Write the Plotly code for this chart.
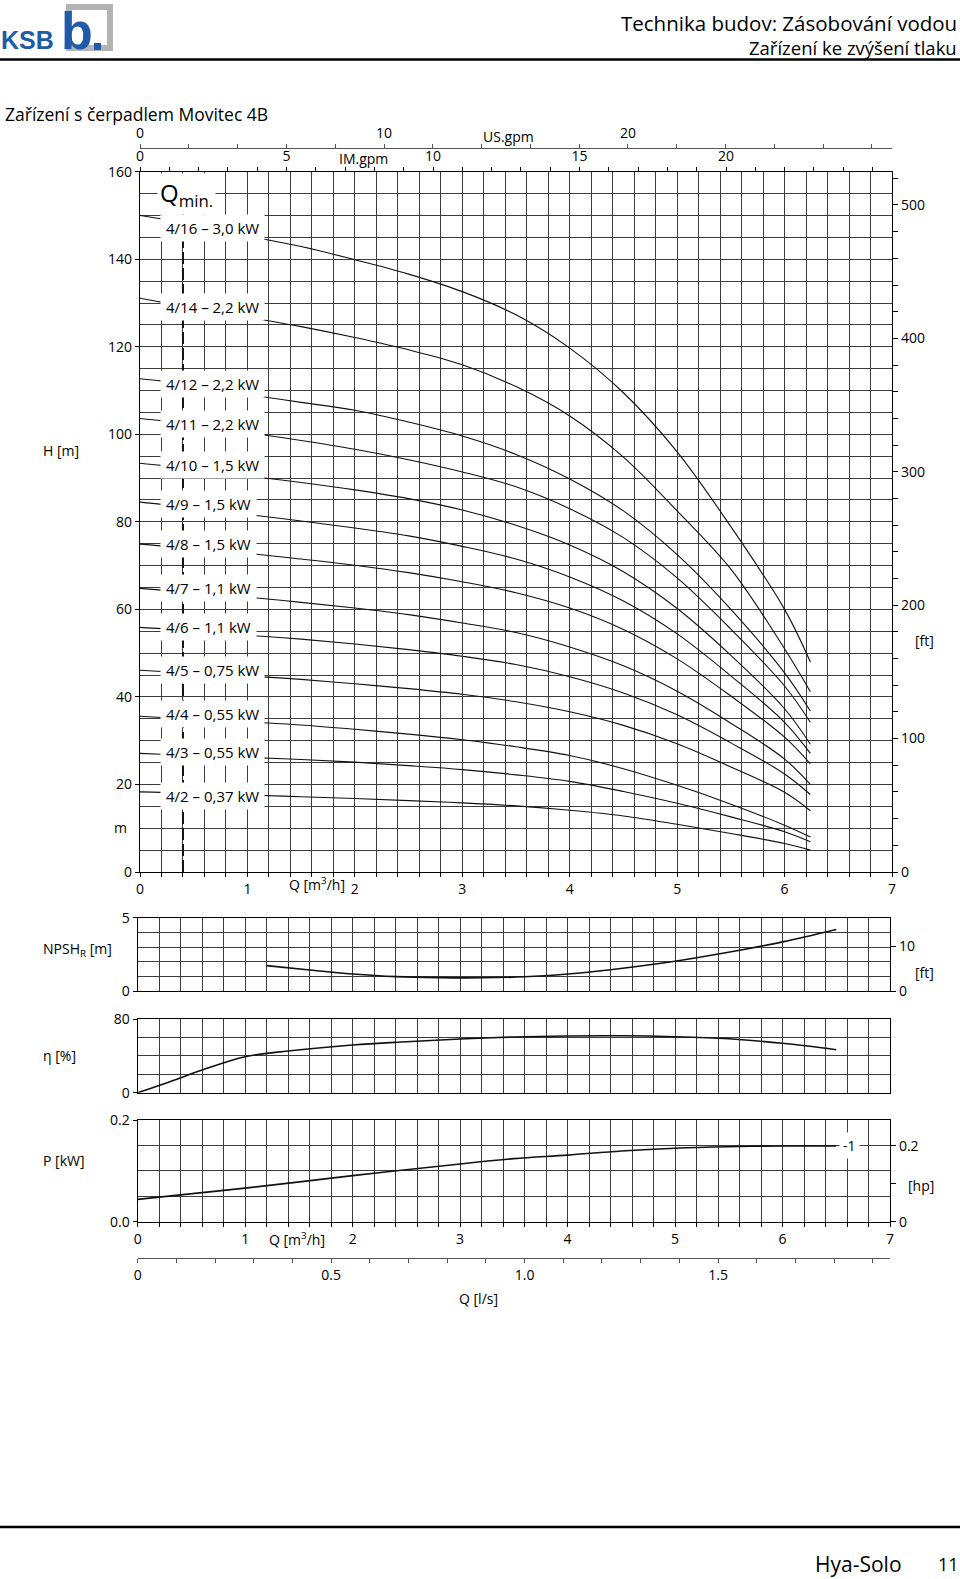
import plotly.graph_objects as go

# === Дані: Q-H криві (Q у m3/h, H у m) ===
q_main = [0, 0.2, 0.4, 1.0, 1.5, 2.0, 2.5, 3.0, 3.5, 4.0, 4.5, 5.0, 5.5, 6.0, 6.24]

h_4_16 = [150.0, 149.2, 148.3, 145.3, 142.9, 139.9, 136.6, 132.6, 127.3, 119.7, 109.5, 96.0, 78.9, 60.0, 48.0]
h_4_14 = [131.1, 130.2, 129.5, 126.8, 124.6, 122.1, 119.3, 115.9, 110.9, 104.2, 94.8, 82.5, 69.2, 51.0, 41.2]
h_4_12 = [112.7, 112.2, 111.5, 109.1, 107.3, 105.5, 102.8, 99.6, 95.4, 89.8, 82.5, 72.5, 60.0, 45.5, 36.8]
h_4_11 = [103.6, 103.1, 102.5, 100.4, 98.6, 96.6, 94.2, 91.4, 88.0, 83.0, 76.4, 67.2, 55.5, 42.5, 34.2]
h_4_10 = [93.4, 92.9, 92.3, 90.5, 89.0, 87.3, 85.3, 82.7, 79.2, 74.7, 68.6, 60.2, 49.5, 37.3, 29.2]
h_4_9 = [84.5, 84.0, 83.4, 81.7, 80.2, 78.6, 76.8, 74.4, 71.5, 67.4, 61.9, 54.4, 44.8, 34.2, 27.1]
h_4_8 = [74.9, 74.5, 74.0, 72.8, 71.5, 70.1, 68.4, 66.3, 63.8, 60.3, 55.4, 48.7, 40.2, 30.8, 24.7]
h_4_7 = [64.8, 64.4, 64.0, 62.8, 61.6, 60.3, 58.8, 56.9, 54.7, 51.4, 47.1, 41.3, 34.0, 25.8, 20.0]
h_4_6 = [55.9, 55.6, 55.2, 54.1, 53.2, 52.1, 50.8, 49.3, 47.4, 44.6, 40.9, 35.9, 29.5, 22.4, 17.7]
h_4_5 = [46.1, 45.8, 45.5, 44.8, 44.0, 43.0, 41.9, 40.6, 38.9, 36.6, 33.5, 29.3, 24.0, 18.2, 14.0]
h_4_4 = [35.6, 35.3, 35.0, 34.3, 33.6, 32.6, 31.5, 30.2, 28.6, 26.6, 23.6, 19.8, 15.5, 10.7, 8.0]
h_4_3 = [27.1, 26.9, 26.7, 26.2, 25.7, 25.1, 24.3, 23.4, 22.2, 20.7, 18.4, 15.7, 12.6, 9.2, 6.9]
h_4_2 = [18.3, 18.2, 18.0, 17.6, 17.2, 16.8, 16.3, 15.8, 15.1, 14.1, 12.8, 10.9, 8.8, 6.5, 5.0]

curve_labels = ["4/16 – 3,0 kW", "4/14 – 2,2 kW", "4/12 – 2,2 kW", "4/11 – 2,2 kW",
                "4/10 – 1,5 kW", "4/9 – 1,5 kW", "4/8 – 1,5 kW", "4/7 – 1,1 kW",
                "4/6 – 1,1 kW", "4/5 – 0,75 kW", "4/4 – 0,55 kW", "4/3 – 0,55 kW",
                "4/2 – 0,37 kW"]
curves = [h_4_16, h_4_14, h_4_12, h_4_11, h_4_10, h_4_9, h_4_8,
          h_4_7, h_4_6, h_4_5, h_4_4, h_4_3, h_4_2]

q_min = 0.4
q_min_h = [0, 151]

# NPSH, účinnost, příkon
q_npsh = [1.2, 1.6, 2.0, 2.4, 2.8, 3.2, 3.6, 4.0, 4.4, 4.8, 5.2, 5.6, 6.0, 6.5]
npsh = [1.73, 1.43, 1.16, 0.98, 0.91, 0.90, 0.97, 1.16, 1.45, 1.82, 2.27, 2.78, 3.35, 4.2]

q_eta = [0, 0.3, 0.6, 1.0, 1.4, 2.0, 2.5, 3.0, 3.5, 4.0, 4.5, 5.0, 5.5, 6.0, 6.5]
eta = [0, 12, 24.6, 39, 45.3, 51.8, 55.3, 58.3, 60.5, 61.6, 61.8, 60.8, 58.5, 53.6, 46.7]

q_p = [0, 1, 2, 3, 3.5, 4, 4.5, 5, 5.5, 6, 6.5]
p_kw = [0.044, 0.066, 0.0906, 0.1136, 0.124, 0.131, 0.139, 0.1445, 0.1475, 0.149, 0.149]

# === Розмітка в пікселях ===
W, HP = 960, 1579


def px(x):
    return x / W


def py(y):
    return 1 - y / HP


FONT = "Open Sans"
GRID = "#3c3c3c"
INK = "#111111"

fig = go.Figure()

for h in curves:
    fig.add_trace(go.Scatter(x=q_main, y=h, mode="lines", xaxis="x", yaxis="y",
                             line=dict(color=INK, width=1.1, shape="spline", smoothing=1.0),
                             hoverinfo="skip", showlegend=False))

fig.add_trace(go.Scatter(x=[q_min, q_min], y=q_min_h, mode="lines", xaxis="x", yaxis="y",
                         line=dict(color=INK, width=2, dash="12px,4px"),
                         hoverinfo="skip", showlegend=False))

fig.add_trace(go.Scatter(x=q_npsh, y=npsh, mode="lines", xaxis="x4", yaxis="y3",
                         line=dict(color=INK, width=1.6, shape="spline"), hoverinfo="skip",
                         showlegend=False))
fig.add_trace(go.Scatter(x=q_eta, y=eta, mode="lines", xaxis="x5", yaxis="y5",
                         line=dict(color=INK, width=1.6, shape="spline"), hoverinfo="skip",
                         showlegend=False))
fig.add_trace(go.Scatter(x=q_p, y=p_kw, mode="lines", xaxis="x6", yaxis="y6",
                         line=dict(color=INK, width=1.6, shape="spline"), hoverinfo="skip",
                         showlegend=False))

# neviditelné stopy, aby se vykreslily i přidané osy (gpm, ft, hp, l/s)
for xa, ya in [("x2", "y"), ("x3", "y"), ("x", "y2"), ("x4", "y4"), ("x6", "y7"), ("x7", "y6")]:
    fig.add_trace(go.Scatter(x=[0], y=[0], mode="markers", xaxis=xa, yaxis=ya,
                             marker=dict(opacity=0, size=1), hoverinfo="skip", showlegend=False))

tickfont = dict(family=FONT, size=14, color="black")
minor_grid = dict(showgrid=True, gridcolor=GRID, gridwidth=1)

main_dom_x = [px(140), px(892)]
low_dom_x = [px(137.7), px(890)]

fig.update_layout(
    width=W, height=HP, margin=dict(l=0, r=0, t=0, b=0, autoexpand=False),
    paper_bgcolor="white", plot_bgcolor="white", showlegend=False,
    font=dict(family=FONT, size=14, color="black"),
    # hlavní graf
    xaxis=dict(domain=main_dom_x, range=[0, 7], anchor="y", tickvals=list(range(8)),
               ticks="outside", ticklen=4, tickcolor="black", tickfont=tickfont,
               showline=True, linecolor="black", linewidth=1.2, zeroline=False,
               showgrid=True, gridcolor=GRID, gridwidth=1,
               minor=dict(dtick=0.2, ticks="outside", ticklen=4, tickcolor="black", **minor_grid)),
    yaxis=dict(domain=[py(872), py(171.7)], range=[0, 160], anchor="x",
               tickvals=list(range(0, 161, 20)), ticks="outside", ticklen=4,
               tickcolor="black", tickfont=tickfont, showline=True, linecolor="black",
               linewidth=1.2, zeroline=False, showgrid=True, gridcolor=GRID, gridwidth=1,
               minor=dict(dtick=5, **minor_grid)),
    xaxis2=dict(overlaying="x", side="top", anchor="y", range=[0, 7 / 0.272765],
                tickvals=[0, 5, 10, 15, 20], ticks="outside", ticklen=4, tickcolor="black",
                tickfont=tickfont, showline=True, linecolor="black", linewidth=1.2,
                showgrid=False, zeroline=False,
                minor=dict(dtick=1, ticks="outside", ticklen=4, tickcolor="black")),
    xaxis3=dict(overlaying="x", side="top", anchor="free", position=py(147.7),
                range=[0, 7 / 0.227125], tickvals=[0, 10, 20], ticks="outside", ticklen=4,
                tickcolor="#555", tickfont=tickfont, showline=True, linecolor="#555",
                linewidth=1, showgrid=False, zeroline=False,
                minor=dict(dtick=2, ticks="outside", ticklen=4, tickcolor="#555")),
    yaxis2=dict(overlaying="y", side="right", anchor="x", range=[0, 160 / 0.3048],
                tickvals=list(range(0, 501, 100)), ticks="outside", ticklen=5,
                tickcolor="black", tickfont=tickfont, showline=True, linecolor="black",
                linewidth=1.2, showgrid=False, zeroline=False,
                minor=dict(dtick=20, ticks="outside", ticklen=5, tickcolor="black")),
    # NPSH
    xaxis4=dict(domain=low_dom_x, range=[0, 7], anchor="y3", showticklabels=False,
                showline=True, mirror=True, linecolor="black", linewidth=1.2, zeroline=False,
                tickvals=list(range(8)), showgrid=True, gridcolor=GRID, gridwidth=1,
                minor=dict(dtick=0.2, **minor_grid)),
    yaxis3=dict(domain=[py(991), py(917.7)], range=[0, 5], anchor="x4", tickvals=[0, 5],
                ticks="outside", ticklen=4, tickcolor="black", tickfont=tickfont,
                showline=True, linecolor="black", linewidth=1.2, zeroline=False,
                showgrid=True, gridcolor=GRID, minor=dict(dtick=1, **minor_grid)),
    yaxis4=dict(overlaying="y3", side="right", anchor="x4", range=[0, 5 / 0.3048],
                tickvals=[0, 10], ticks="outside", ticklen=5, tickcolor="black",
                tickfont=tickfont, showline=True, linecolor="black", linewidth=1.2,
                showgrid=False, zeroline=False),
    # účinnost
    xaxis5=dict(domain=low_dom_x, range=[0, 7], anchor="y5", showticklabels=False,
                showline=True, mirror=True, linecolor="black", linewidth=1.2, zeroline=False,
                tickvals=list(range(8)), showgrid=True, gridcolor=GRID, gridwidth=1,
                minor=dict(dtick=0.2, **minor_grid)),
    yaxis5=dict(domain=[py(1092.7), py(1019)], range=[0, 80], anchor="x5", tickvals=[0, 80],
                ticks="outside", ticklen=4, tickcolor="black", tickfont=tickfont,
                showline=True, mirror=True, linecolor="black", linewidth=1.2, zeroline=False,
                showgrid=True, gridcolor=GRID, minor=dict(dtick=20, **minor_grid)),
    # příkon
    xaxis6=dict(domain=low_dom_x, range=[0, 7], anchor="y6", tickvals=list(range(8)),
                ticks="outside", ticklen=4, tickcolor="black", tickfont=tickfont,
                showline=True, mirror=True, linecolor="black", linewidth=1.2, zeroline=False,
                showgrid=True, gridcolor=GRID, gridwidth=1,
                minor=dict(dtick=0.2, ticks="outside", ticklen=4, tickcolor="black", **minor_grid)),
    yaxis6=dict(domain=[py(1221.7), py(1120)], range=[0, 0.2], anchor="x6",
                tickvals=[0, 0.2], ticktext=["0.0", "0.2"], ticks="outside", ticklen=4,
                tickcolor="black", tickfont=tickfont, showline=True, linecolor="black",
                linewidth=1.2, zeroline=False, showgrid=True, gridcolor=GRID,
                minor=dict(dtick=0.05, **minor_grid)),
    yaxis7=dict(overlaying="y6", side="right", anchor="x6", range=[0, 0.2 / 0.7457],
                tickvals=[0, 0.2], ticktext=["0", "0.2"], ticks="outside", ticklen=5,
                tickcolor="black", tickfont=tickfont, showline=True, linecolor="black",
                linewidth=1.2, showgrid=False, zeroline=False,
                minor=dict(dtick=0.1, ticks="outside", ticklen=5, tickcolor="black")),
    xaxis7=dict(overlaying="x6", side="bottom", anchor="free", position=py(1257.7),
                range=[0, 7 / 3.6], tickvals=[0, 0.5, 1.0, 1.5], ticktext=["0", "0.5", "1.0", "1.5"],
                ticks="outside", ticklen=4, tickcolor="#555", tickfont=tickfont,
                showline=True, linecolor="#555", linewidth=1, showgrid=False, zeroline=False,
                minor=dict(dtick=0.1, ticks="outside", ticklen=4, tickcolor="#555")),
)

# žádné automatické okraje
for name in ["xaxis", "xaxis2", "xaxis3", "xaxis4", "xaxis5", "xaxis6", "xaxis7",
             "yaxis", "yaxis2", "yaxis3", "yaxis4", "yaxis5", "yaxis6", "yaxis7"]:
    fig.layout[name].automargin = False

# === Popisky křivek (bílý podklad zakrývá mřížku) ===
label_h = [147.1, 129.2, 111.5, 102.3, 93.1, 84.1, 74.9, 64.8, 56.0, 46.1, 36.0, 27.5, 17.4]
annotations = []
for text, yh in zip(curve_labels, label_h):
    annotations.append(dict(x=0.19, y=yh, xref="x", yref="y", text=text, showarrow=False,
                            xanchor="left", yanchor="middle", bgcolor="white", borderpad=5,
                            height=16, valign="middle",
                            font=dict(family=FONT, size=15, color="black")))

annotations.append(dict(x=0.16, y=154.9, xref="x", yref="y", text="Q<sub>min.</sub>",
                        showarrow=False, xanchor="left", yanchor="middle", bgcolor="white",
                        borderpad=2, font=dict(family=FONT, size=24, color="black")))

annotations.append(dict(x=6.62, y=0.149, xref="x6", yref="y6", text="-1", showarrow=False,
                        xanchor="center", yanchor="middle", bgcolor="white", borderpad=3,
                        font=dict(family=FONT, size=14, color="black")))


def ptext(x, y, text, size=14, anchor="center", **kw):
    annotations.append(dict(x=px(x), y=py(y), xref="paper", yref="paper", text=text,
                            showarrow=False, xanchor=anchor, yanchor="middle",
                            font=dict(family=kw.get("family", FONT), size=size,
                                      color=kw.get("color", "black"))))


ptext(363, 159, "IM.gpm")
ptext(508, 136, "US.gpm")
ptext(41, 450, "H [m]", anchor="left")
ptext(120, 827, "m")
ptext(924, 640, "[ft]")
ptext(317, 884, "Q [m<sup>3</sup>/h]")
ptext(41, 949, "NPSH<sub>R</sub> [m]", anchor="left")
ptext(924, 972, "[ft]")
ptext(41, 1055, "η [%]", anchor="left")
ptext(41, 1160, "P [kW]", anchor="left")
ptext(921, 1185, "[hp]")
ptext(297, 1239, "Q [m<sup>3</sup>/h]")
ptext(478, 1298, "Q [l/s]")

# záhlaví a zápatí
ptext(959, 23, "Technika budov: Zásobování vodou", size=20.5, anchor="right")
ptext(959, 47, "Zařízení ke zvýšení tlaku", size=18.5, anchor="right")
ptext(3, 114, "Zařízení s čerpadlem Movitec 4B", size=17.5, anchor="left")
ptext(858, 1564, "Hya-Solo", size=21)
ptext(948, 1564, "11", size=18)
ptext(27, 40, "<b>KSB</b>", size=25, family="Liberation Sans", color="#1f5ba8")
ptext(77, 31, "<b>b</b>", size=52, family="Liberation Sans", color="#1f5ba8")

fig.update_layout(annotations=annotations)

shapes = [
    dict(type="line", xref="paper", yref="paper", x0=0, x1=1, y0=py(59.5), y1=py(59.5),
         line=dict(color="black", width=2.5)),
    dict(type="line", xref="paper", yref="paper", x0=0, x1=1, y0=py(1527), y1=py(1527),
         line=dict(color="black", width=2.5)),
    dict(type="rect", xref="paper", yref="paper", x0=px(69), x1=px(110), y0=py(48), y1=py(7),
         line=dict(color="#b3b3b3", width=6), layer="below"),
    dict(type="rect", xref="paper", yref="paper", x0=px(94), x1=px(101), y0=py(50), y1=py(43),
         line=dict(width=0), fillcolor="#1f5ba8"),
]
fig.update_layout(shapes=shapes)

fig.write_html("out.html", config={"displayModeBar": False},
               post_script="document.body.style.margin='0px';document.body.style.overflow='hidden';")
